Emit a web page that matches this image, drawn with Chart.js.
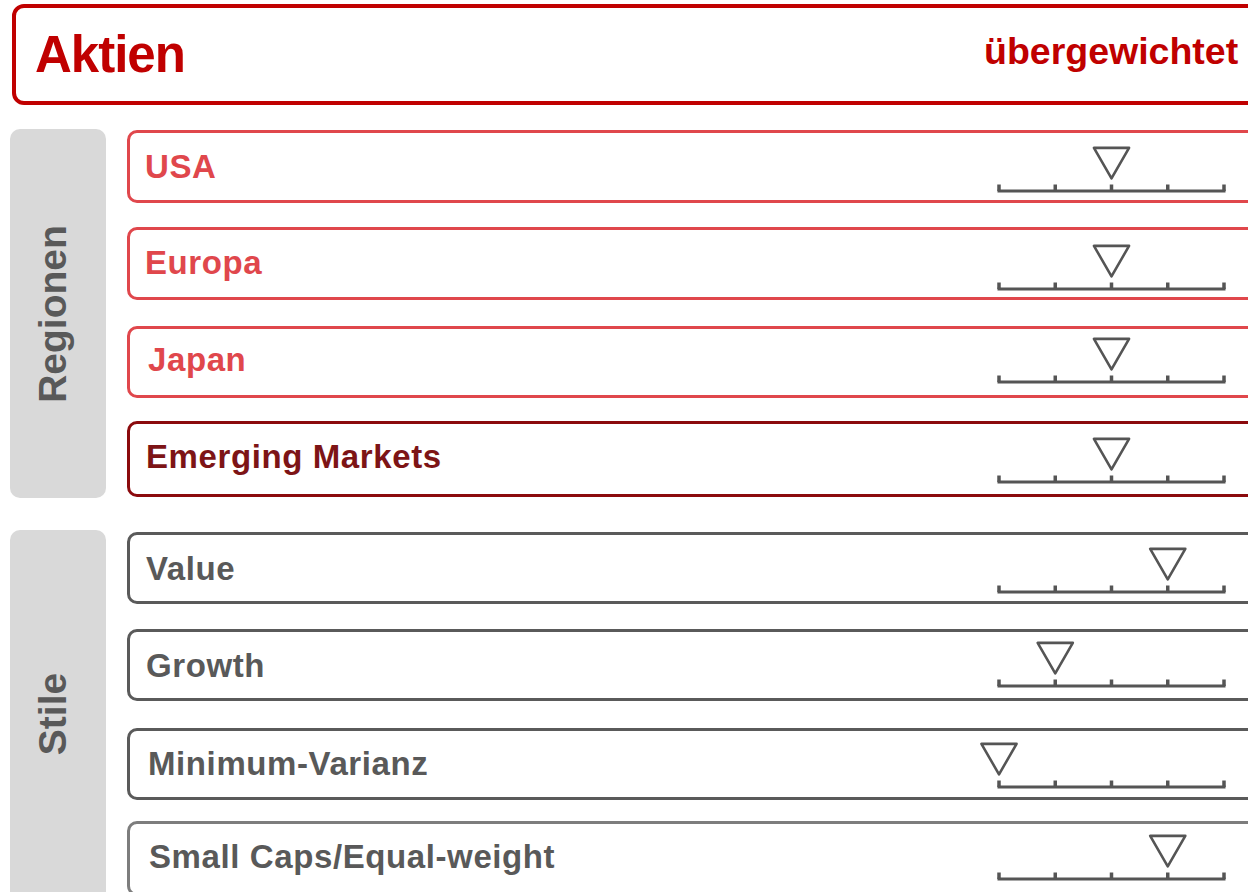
<!DOCTYPE html>
<html lang="de">
<head>
<meta charset="utf-8">
<title>Aktien</title>
<script src="https://cdn.jsdelivr.net/npm/chart.js@4.4.1/dist/chart.umd.min.js"></script>
<style>
    html, body { margin: 0; padding: 0; background: #fff; }
    #page {
        position: relative; width: 1248px; height: 892px; overflow: hidden;
        font-family: "Liberation Sans", Arial, sans-serif; font-weight: bold;
    }
    .box { position: absolute; box-sizing: border-box; }
    .txt { position: absolute; white-space: nowrap; line-height: 1; }
    canvas { position: absolute; }
</style>
</head>
<body>
<div id="page"></div>
<script>
// ================== DATA ==================
const headerTitle = 'Aktien';
const headerRating = 'übergewichtet';
const groupNames = ['Regionen', 'Stile'];
const categories = ['USA', 'Europa', 'Japan', 'Emerging Markets', 'Value', 'Growth', 'Minimum-Varianz', 'Small Caps/Equal-weight'];
const categoryGroup = [0, 0, 0, 0, 1, 1, 1, 1];
const ratings = [2, 2, 2, 2, 3, 1, 0, 3];   // position on the 5-step scale
const scaleStops = [0, 1, 2, 3, 4];

// ================== LAYOUT ==================
const rowTop = [130, 227, 326, 421, 532, 629, 728, 821];
const rowBottom = [203, 300, 398, 497, 604, 701, 800, 896];
const scaleBaseline = [191, 289, 382, 482, 592, 686, 787, 879];
const labelBaseline = [178, 274, 371, 468, 580, 677, 775, 868];
const labelLeft = [145, 145, 148, 146, 146, 146, 148, 149];
const rowBorder = ['#e0474c', '#e0474c', '#e0474c', '#8b0a0d', '#5a5a5a', '#5a5a5a', '#5a5a5a', '#7d7d7d'];
const rowText = ['#e0474c', '#e0474c', '#e0474c', '#7d1416', '#595959', '#595959', '#595959', '#595959'];
const groupBox = [{ top: 129, height: 369 }, { top: 530, height: 400 }];
const groupCenterY = [313.5, 714];

const RED = '#c00000';
const INK = '#555555';
const MARKER_LEVEL = 1;
const ASC = 0.8465; // baseline offset for Liberation Sans at line-height 1

const page = document.getElementById('page');

function addBox(left, top, width, height, css) {
    const el = document.createElement('div');
    el.className = 'box';
    el.style.cssText = `left:${left}px;top:${top}px;width:${width}px;height:${height}px;${css}`;
    page.appendChild(el);
    return el;
}

function addText(text, left, baseline, size, color, extra = '') {
    const el = document.createElement('div');
    el.className = 'txt';
    el.textContent = text;
    el.style.cssText = `left:${left}px;top:${baseline - ASC * size}px;font-size:${size}px;color:${color};${extra}`;
    page.appendChild(el);
    return el;
}

// --- header ---
addBox(12, 4, 1300, 101, `border:4px solid ${RED};border-radius:12px;`);
addText(headerTitle, 35, 72, 51, RED, 'letter-spacing:-1px;');
addText(headerRating, 984, 65, 37.5, RED);

// --- group panels ---
groupNames.forEach((name, g) => {
    addBox(10, groupBox[g].top, 96, groupBox[g].height, 'background:#d9d9d9;border-radius:10px;');
    const el = document.createElement('div');
    el.className = 'txt';
    el.textContent = name;
    el.style.cssText = `left:51.5px;top:${groupCenterY[g]}px;font-size:39px;color:#595959;` +
        'transform:translate(-50%,-50%) rotate(-90deg);';
    page.appendChild(el);
});

// --- rows ---
const roundJoins = {
    id: 'roundJoins',
    beforeDatasetsDraw(chart) { chart.ctx.lineJoin = 'round'; }
};

function createRowChart(i) {
    const W = 288, H = 66, baseY = 56;
    const canvas = document.createElement('canvas');
    canvas.width = W;
    canvas.height = H;
    canvas.style.left = '960px';
    canvas.style.top = (scaleBaseline[i] - baseY) + 'px';
    page.appendChild(canvas);

    return new Chart(canvas.getContext('2d'), {
        type: 'scatter',
        data: {
            datasets: [
                {
                    label: categories[i],
                    data: [{ x: ratings[i], y: MARKER_LEVEL }],
                    pointStyle: 'triangle', pointRotation: 180, pointRadius: 20.3,
                    pointBorderWidth: 2.6, pointBorderColor: INK, pointBackgroundColor: '#fff',
                    clip: false
                },
                {
                    label: 'ticks',
                    data: scaleStops.map(v => ({ x: v, y: 0 })),
                    pointStyle: 'dash', pointRotation: 270, pointRadius: 6.5,
                    pointBorderWidth: 3.5, pointBorderColor: INK, pointBackgroundColor: INK,
                    clip: false
                },
                {
                    label: 'axis',
                    data: [{ x: scaleStops[0], y: 0 }, { x: scaleStops[scaleStops.length - 1], y: 0 }],
                    showLine: true, pointRadius: 0,
                    borderWidth: 3, borderColor: INK, borderCapStyle: 'square',
                    clip: false
                }
            ]
        },
        options: {
            responsive: false,
            animation: false,
            events: [],
            layout: { autoPadding: false, padding: { left: 39, right: 24, top: baseY - 33, bottom: H - baseY } },
            plugins: { legend: { display: false }, tooltip: { enabled: false } },
            scales: {
                x: { type: 'linear', min: scaleStops[0], max: scaleStops[scaleStops.length - 1], display: false },
                y: { type: 'linear', min: 0, max: MARKER_LEVEL, display: false }
            }
        },
        plugins: [roundJoins]
    });
}

categories.forEach((name, i) => {
    const thick = i === 3 ? 3.5 : 3;
    addBox(127, rowTop[i], 1300, rowBottom[i] - rowTop[i],
        `border:${thick}px solid ${rowBorder[i]};border-radius:10px;background:#fff;`);
    addText(name, labelLeft[i], labelBaseline[i], 33, rowText[i], 'letter-spacing:0.6px;');
    createRowChart(i);
});
</script>
</body>
</html>
